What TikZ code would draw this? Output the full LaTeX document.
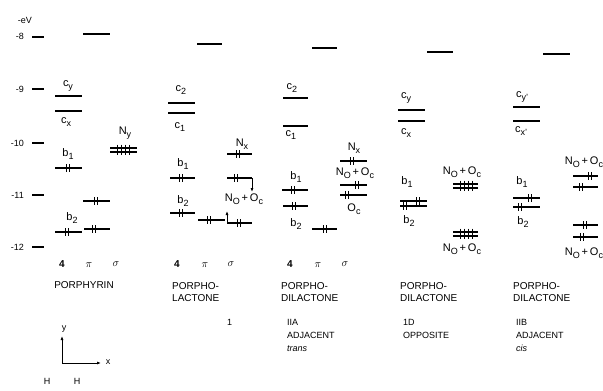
\documentclass[tikz,border=0pt]{standalone}
\usepackage{fontspec}
\setmainfont{Liberation Sans}
\usetikzlibrary{arrows.meta}
\newcommand{\sbs}[1]{\raisebox{-0.55ex}{\fontsize{9}{9}\selectfont #1}}
\newcommand{\lv}[3]{\draw[lvl] (#1,#3) -- (#2,#3);}
\newcommand{\tv}[3]{\draw[toplvl] (#1,#3) -- (#2,#3);}
\newcommand{\spn}[2]{\draw[spin] (#1-1.8,#2-3.6) -- (#1-1.8,#2+3.6) (#1+1.8,#2-3.6) -- (#1+1.8,#2+3.6);}
\newcommand{\quadsp}[3]{\foreach \dx in {-6,-2,2,6} {\draw[spin] (#1+\dx,#2-3.4) -- (#1+\dx,#3+3.4);}}
\newcommand{\NO}{N\sbs{O}\,+\,O\sbs{c}}
\tikzset{
  lvl/.style={line width=1.1pt},
  toplvl/.style={line width=1.5pt},
  spin/.style={line width=0.9pt},
  arr/.style={line width=0.8pt,-{Latex[length=4pt,width=3pt]}},
  lab/.style={font=\fontsize{11}{11}\selectfont, inner sep=0pt},
  sym/.style={font=\fontsize{11}{11}\selectfont, inner sep=0pt},
  big/.style={font=\fontsize{10}{12}\selectfont, inner sep=0pt, anchor=west, align=left},
  small/.style={font=\fontsize{9}{13}\selectfont, inner sep=0pt, anchor=west, align=left},
  ax/.style={font=\fontsize{9}{9}\selectfont, inner sep=0pt},
  tickmark/.style={line width=2pt},
}
\begin{document}
\begin{tikzpicture}[x=1pt,y=-1pt]
\useasboundingbox (0,0) rectangle (603,391);
% energy axis
\node[ax] (ev) at (25,20) {-eV};
\node[ax,anchor=east] (e8) at (24,36) {-8};
\node[ax,anchor=east] (e9) at (24,89) {-9};
\node[ax,anchor=east] (e10) at (24,143) {-10};
\node[ax,anchor=east] (e11) at (24,195) {-11};
\node[ax,anchor=east] (e12) at (24,247) {-12};
\foreach \yy in {37,89,143,195,247} {\draw[tickmark] (32,\yy) -- (44,\yy);}

% ---------- column 1: porphyrin
\tv{83}{110}{34}
\node[lab] (c1y) at (68,86) {c\sbs{y}};
\lv{55}{82}{96}
\lv{55}{82}{111}
\node[lab] (c1x) at (66,122) {c\sbs{x}};
\node[lab] (c1n) at (125,133) {N\sbs{y}};
\lv{110}{137}{148} \lv{110}{137}{152} \quadsp{123}{148}{152}
\node[lab] (c1b1) at (68,154) {b\sbs{1}};
\lv{55}{82}{168} \spn{68}{168}
\lv{83}{110}{201} \spn{96}{201}
\node[lab] (c1b2) at (72,218) {b\sbs{2}};
\lv{55}{82}{232} \spn{67}{232}
\lv{84}{110}{229} \spn{94}{229}
\node[lab,font=\bfseries\fontsize{10}{10}\selectfont] (c1f) at (62,264) {4};
\node[sym] (c1p) at (89,265) {$\pi$};
\node[sym] (c1s) at (116,264) {$\sigma$};
\node[big,anchor=center] (c1name) at (84,285) {PORPHYRIN};

% ---------- column 2: porpholactone
\tv{197}{222}{44}
\node[lab] (c2c2) at (181,90) {c\sbs{2}};
\lv{168}{195}{103}
\lv{168}{195}{113}
\node[lab] (c2c1) at (180,127) {c\sbs{1}};
\node[lab] (c2n) at (242,144) {N\sbs{x}};
\lv{227}{252}{154} \spn{238}{154}
\node[lab] (c2b1) at (183,164) {b\sbs{1}};
\lv{170}{195}{178} \spn{181}{178}
\coordinate (a1) at (252,178);
\coordinate (a2) at (252,192);
\draw[lvl] (227,178) -- (a1); \spn{236}{178}
\draw[arr] (a1) -- (a2);
\node[lab] (c2no) at (244,199) {\NO};
\node[lab] (c2b2) at (183,201) {b\sbs{2}};
\lv{170}{195}{213} \spn{181}{213}
\lv{198}{225}{220} \spn{209}{220}
\coordinate (b1) at (227,223);
\coordinate (b2) at (227,211);
\draw[lvl] (b1) -- (252,223); \spn{239}{223}
\draw[arr] (b1) -- (b2);
\node[lab,font=\bfseries\fontsize{10}{10}\selectfont] (c2f) at (177,264) {4};
\node[sym] (c2p) at (205,265) {$\pi$};
\node[sym] (c2s) at (231,264) {$\sigma$};
\node[big] (c2name) at (172,292) {PORPHO-\\LACTONE};
\node[small] (c2num) at (227,322) {1};

% ---------- column 3: porphodilactone IIA
\tv{312}{337}{48}
\node[lab] (c3c2) at (292,88) {c\sbs{2}};
\lv{283}{308}{98}
\lv{283}{308}{126}
\node[lab] (c3c1) at (291,135) {c\sbs{1}};
\node[lab] (c3n) at (354,148) {N\sbs{x}};
\lv{340}{367}{161} \spn{352}{161}
\node[lab] (c3no) at (355,173) {\NO};
\lv{340}{367}{185} \spn{357}{185}
\lv{340}{367}{195} \spn{347}{195}
\node[lab] (c3oc) at (354,209) {O\sbs{c}};
\node[lab] (c3b1) at (296,177) {b\sbs{1}};
\lv{282}{308}{190} \spn{293}{190}
\lv{283}{308}{206} \spn{294}{206}
\node[lab] (c3b2) at (296,224) {b\sbs{2}};
\lv{312}{337}{229} \spn{325}{229}
\node[lab,font=\bfseries\fontsize{10}{10}\selectfont] (c3f) at (290,264) {4};
\node[sym] (c3p) at (318,265) {$\pi$};
\node[sym] (c3s) at (345,264) {$\sigma$};
\node[big] (c3name) at (281,292) {PORPHO-\\DILACTONE};
\node[small] (c3num) at (287,335) {IIA\\ADJACENT\\\textit{trans}};

% ---------- column 4: porphodilactone ID
\tv{427}{453}{52}
\node[lab] (c4cy) at (406,98) {c\sbs{y}};
\lv{398}{425}{110}
\lv{398}{425}{121}
\node[lab] (c4cx) at (406,133) {c\sbs{x}};
\node[lab] (c4b1) at (407,182) {b\sbs{1}};
\lv{400}{427}{201} \spn{418}{201}
\lv{400}{427}{206} \spn{405}{206}
\node[lab] (c4b2) at (409,221) {b\sbs{2}};
\node[lab] (c4no1) at (462,172) {\NO};
\lv{453}{478}{184} \lv{453}{478}{188} \quadsp{466}{184}{188}
\lv{453}{478}{232} \lv{453}{478}{236} \quadsp{466}{232}{236}
\node[lab] (c4no2) at (462,249) {\NO};
\node[big] (c4name) at (400,292) {PORPHO-\\DILACTONE};
\node[small] (c4num) at (403,329) {1D\\OPPOSITE};

% ---------- column 5: porphodilactone IIB
\tv{543}{570}{54}
\node[lab] (c5cy) at (522,97) {c\sbs{y'}};
\lv{513}{540}{107}
\lv{513}{540}{121}
\node[lab] (c5cx) at (521,131) {c\sbs{x'}};
\node[lab] (c5b1) at (522,182) {b\sbs{1}};
\lv{513}{540}{198} \spn{530}{198}
\lv{513}{540}{207} \spn{520}{207}
\node[lab] (c5b2) at (523,222) {b\sbs{2}};
\node[lab] (c5no1) at (584,162) {\NO};
\lv{573}{598}{176} \spn{590}{176}
\lv{573}{598}{187} \spn{581}{187}
\lv{573}{598}{225} \spn{585}{225}
\lv{573}{598}{237} \spn{582}{237}
\node[lab] (c5no2) at (584,253) {\NO};
\node[big] (c5name) at (513,292) {PORPHO-\\DILACTONE};
\node[small] (c5num) at (516,335) {IIB\\ADJACENT\\\textit{cis}};

% ---------- coordinate inset
\coordinate (o) at (62,363);
\coordinate (oy) at (62,336);
\coordinate (ox) at (101,363);
\draw[arr] (o) -- (oy);
\draw[arr] (o) -- (ox);
\node[ax] (ly) at (64,329) {y};
\node[ax] (lx) at (108,362) {x};
\node[ax] (h1) at (47,381) {H};
\node[ax] (h2) at (77,381) {H};
\end{tikzpicture}
\end{document}
